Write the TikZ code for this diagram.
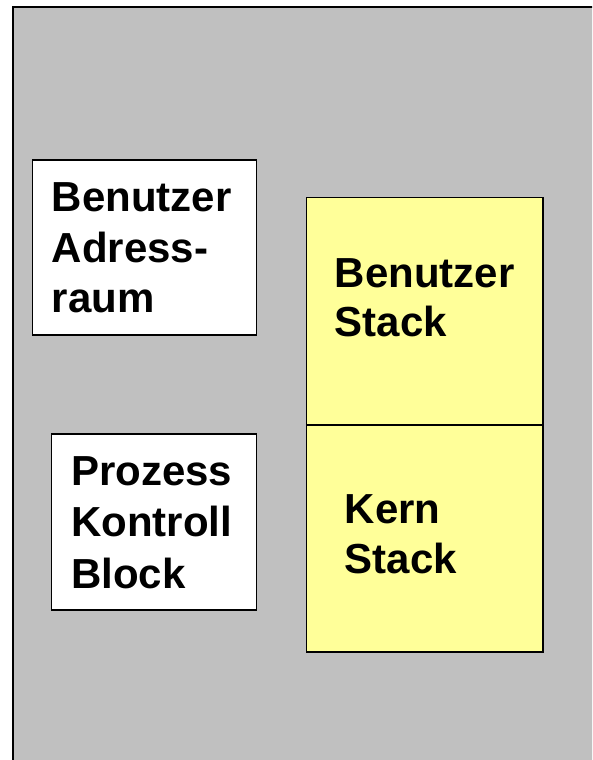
\documentclass[tikz,border=0pt]{standalone}
\usepackage{fontspec}
\setmainfont{Liberation Sans}
\definecolor{bggray}{HTML}{C0C0C0}
\definecolor{stackyellow}{HTML}{FFFF99}
\begin{document}
\begin{tikzpicture}[x=1pt,y=-1pt,
  box/.style={draw=black,line width=1.5pt,anchor=north west,inner sep=0pt},
  lbl/.style={anchor=base west,inner sep=0pt,align=left,font=\fontsize{42}{50.5}\selectfont\bfseries}]
\useasboundingbox (0,0) rectangle (592,760);
\clip (0,0) rectangle (592,760);
\fill[white] (0,0) rectangle (592,760);
\fill[bggray] (13,7) rectangle (640,800);
\draw[line width=2.5pt] (13,800) -- (13,7) -- (640,7);
% Benutzer Adressraum
\node[box,fill=white,minimum width=224pt,minimum height=175pt] (adr) at (31.7,159) {};
\node[lbl] (adrtxt) at (51.5,312.7) {Benutzer\\Adress-\\raum};
% Prozess Kontroll Block
\node[box,fill=white,minimum width=205pt,minimum height=176pt] (pcb) at (50.7,433) {};
\node[lbl,font=\fontsize{42}{51.5}\selectfont\bfseries] (pcbtxt) at (71,588) {Prozess\\Kontroll\\Block};
% Stacks
\node[box,fill=stackyellow,minimum width=236.3pt,minimum height=227.3pt] (ustack) at (305.7,196.7) {};
\node[box,fill=stackyellow,minimum width=236.3pt,minimum height=227pt] (kstack) at (305.7,424) {};
\node[lbl,font=\fontsize{42}{49.5}\selectfont\bfseries] (ustxt) at (334.7,336.8) {Benutzer\\Stack};
\node[lbl,font=\fontsize{42}{50}\selectfont\bfseries] (kstxt) at (344.7,573) {Kern\\Stack};
\end{tikzpicture}
\end{document}
